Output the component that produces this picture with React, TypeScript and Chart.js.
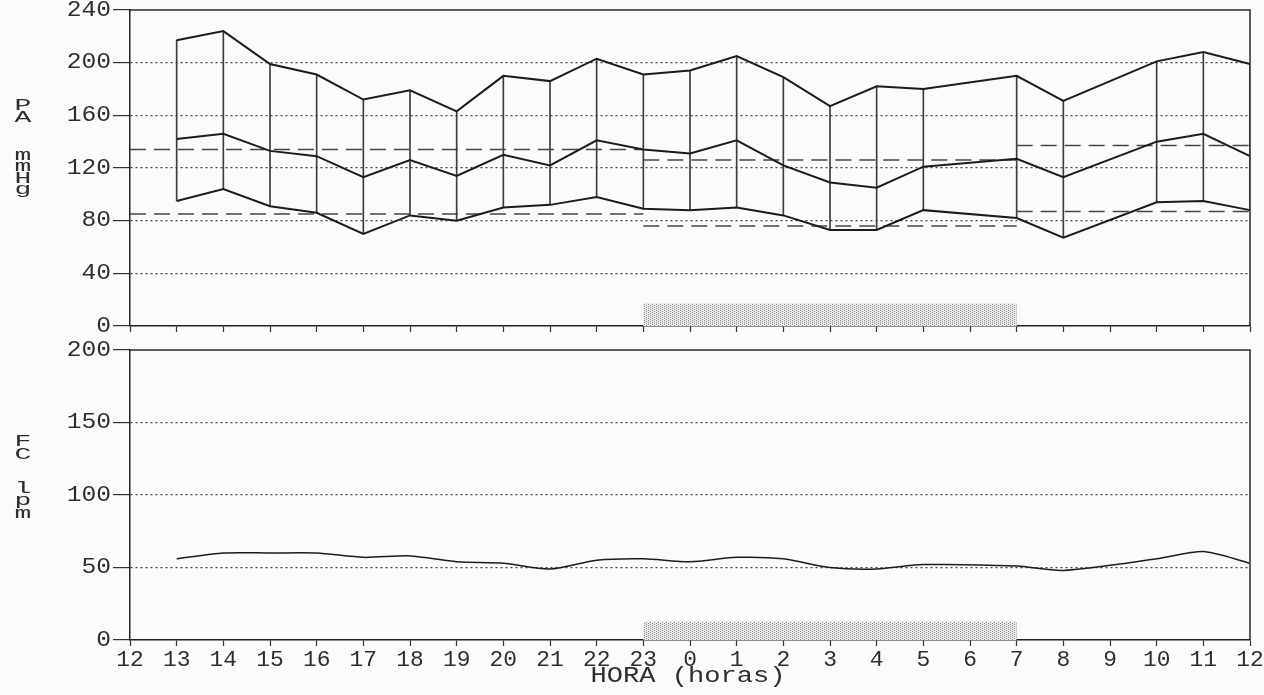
import React, { useEffect, useRef } from 'react';
import { Chart, registerables } from 'chart.js';

Chart.register(...registerables);

// Hour axis: noon to noon
const hours = ['12', '13', '14', '15', '16', '17', '18', '19', '20', '21', '22', '23', '0', '1', '2', '3', '4', '5', '6', '7', '8', '9', '10', '11', '12'];

// Blood pressure readings (mmHg); null = no reading at that hour
const systolic = [null, 217, 224, 199, 191, 172, 179, 163, 190, 186, 203, 191, 194, 205, 189, 167, 182, 180, null, 190, 171, null, 201, 208, 199];
const meanPressure = [null, 142, 146, 133, 129, 113, 126, 114, 130, 122, 141, 134, 131, 141, 122, 109, 105, 121, null, 127, 113, null, 140, 146, 129];
const diastolic = [null, 95, 104, 91, 86, 70, 84, 80, 90, 92, 98, 89, 88, 90, 84, 73, 73, 88, null, 82, 67, null, 94, 95, 88];

// Heart rate (bpm)
const heartRate = [null, 56, 60, 60, 60, 57, 58, 54, 53, 49, 55, 56, 54, 57, 56, 50, 49, 52, null, 51, 48, null, 56, 61, 53];

// Period averages: day (12–23), night (23–7), day (7–12); edges are indexes into hours
const periodEdges = [0, 11, 19, 24];
const systolicPeriodMean = [134, 126, 137];
const diastolicPeriodMean = [85, 76, 87];

// Sleep period marker (hour indexes) and its height in each panel's units
const nightStart = 11;
const nightEnd = 19;
const paNightBand = 17;
const fcNightBand = 12.5;

// Axis ranges
const paMax = 240;
const paStep = 40;
const fcMax = 200;
const fcStep = 50;

const axisTitle = 'HORA (horas)';
const paLetters = ['P', 'A', 'm', 'm', 'H', 'g'];
const fcLetters = ['F', 'C', 'l', 'p', 'm'];

const FONT = "'Liberation Mono', 'Courier New', monospace";
const INK = '#1c1c1c';
const GRID = '#40405a';
const LABEL = '#2e2e2e';

function stretchText(
  ctx: CanvasRenderingContext2D,
  text: string,
  x: number,
  y: number,
  sx: number,
  align: CanvasTextAlign,
  baseline: CanvasTextBaseline
) {
  ctx.save();
  ctx.translate(x, y);
  ctx.scale(sx, 1);
  ctx.textAlign = align;
  ctx.textBaseline = baseline;
  ctx.fillText(text, 0, 0);
  ctx.restore();
}

function makeStipple(): CanvasPattern | string {
  const tile = document.createElement('canvas');
  tile.width = 4;
  tile.height = 2;
  const t = tile.getContext('2d');
  if (!t) return '#ddd';
  t.fillStyle = '#ebebeb';
  t.fillRect(0, 0, 4, 2);
  t.fillStyle = '#8c8c8c';
  t.fillRect(0, 0, 1, 1);
  t.fillRect(2, 1, 1, 1);
  const p = t.createPattern(tile, 'repeat');
  return p || '#ddd';
}

type PanelDecor = {
  letters: string[];
  letterBaselines: number[];
  band: number;
  showHours: boolean;
  hourLabelY: number;
  titleY: number;
};

function decorPlugin(id: string, decor: PanelDecor) {
  return {
    id,
    beforeDatasetsDraw(chart: any) {
      const { ctx, scales } = chart;
      const xs = scales.x;
      const ys = scales.y;
      const x1 = xs.getPixelForValue(nightStart);
      const x2 = xs.getPixelForValue(nightEnd);
      const yTop = ys.getPixelForValue(decor.band);
      const yBot = ys.getPixelForValue(0);
      ctx.save();
      ctx.fillStyle = makeStipple();
      ctx.fillRect(x1, yTop, x2 - x1, yBot - yTop);
      ctx.restore();
    },
    afterDraw(chart: any) {
      const { ctx, scales, chartArea } = chart;
      const xs = scales.x;
      const ys = scales.y;

      // top and right frame lines
      ctx.save();
      ctx.strokeStyle = '#2a2a2a';
      ctx.lineWidth = 1.5;
      ctx.beginPath();
      ctx.moveTo(chartArea.left, chartArea.top);
      ctx.lineTo(chartArea.right, chartArea.top);
      ctx.lineTo(chartArea.right, chartArea.bottom);
      ctx.stroke();
      ctx.restore();

      ctx.save();
      ctx.fillStyle = LABEL;
      ctx.font = `22px ${FONT}`;
      ys.ticks.forEach((t: any, i: number) => {
        stretchText(ctx, String(t.value), 111, ys.getPixelForTick(i), 1.12, 'right', 'middle');
      });
      if (decor.showHours) {
        xs.ticks.forEach((t: any, i: number) => {
          stretchText(ctx, String(xs.getLabelForValue(t.value)), xs.getPixelForTick(i), decor.hourLabelY, 1.04, 'center', 'middle');
        });
        stretchText(ctx, axisTitle, (chartArea.left + chartArea.right) / 2 - 2, decor.titleY, 1.23, 'center', 'middle');
      }
      ctx.font = `17px ${FONT}`;
      decor.letters.forEach((ch, i) => {
        stretchText(ctx, ch, 23, decor.letterBaselines[i], 1.65, 'center', 'alphabetic');
      });
      ctx.restore();
    },
  };
}

function fitScale(size: number, horizontal: boolean) {
  return (scale: any) => {
    if (horizontal) scale.height = size;
    else scale.width = size;
    scale.paddingTop = 0;
    scale.paddingBottom = 0;
    scale.paddingLeft = 0;
    scale.paddingRight = 0;
  };
}

function yAxis(max: number, step: number) {
  return {
    min: 0,
    max,
    afterFit: fitScale(130, false),
    ticks: { stepSize: step, color: 'rgba(0,0,0,0)', font: { size: 19, family: FONT }, padding: 0 },
    grid: {
      color: (c: any) => (c.tick && (c.tick.value === 0 || c.tick.value === max) ? 'rgba(0,0,0,0)' : GRID),
      lineWidth: 1.2,
      drawTicks: true,
      tickLength: 17,
      tickColor: '#333',
      tickWidth: 1.2,
    },
    border: { display: true, color: '#222', width: 1.5, dash: [2, 3] },
  };
}

function xAxis(height: number) {
  return {
    type: 'category' as const,
    offset: false,
    afterFit: fitScale(height, true),
    ticks: { color: 'rgba(0,0,0,0)', autoSkip: false, maxRotation: 0, minRotation: 0, font: { size: 19, family: FONT }, padding: 0 },
    grid: {
      offset: false,
      drawOnChartArea: false,
      drawTicks: true,
      tickLength: 6,
      tickColor: '#333',
      tickWidth: 1.2,
    },
    border: { display: true, color: '#222', width: 1.5 },
  };
}

function periodSeries(means: number[]) {
  return means.map((m, p) => {
    const data: (number | null)[] = hours.map(() => null);
    data[periodEdges[p]] = m;
    data[periodEdges[p + 1]] = m;
    return {
      type: 'line' as const,
      data,
      borderColor: '#454545',
      borderWidth: 1.5,
      borderDash: [16, 8],
      pointRadius: 0,
      spanGaps: true,
      order: 3,
    };
  });
}

function pressureLine(data: (number | null)[]) {
  return {
    type: 'line' as const,
    data,
    borderColor: INK,
    borderWidth: 2,
    pointRadius: 0,
    spanGaps: true,
    tension: 0,
    order: 1,
  };
}

export default function App() {
  const paRef = useRef<HTMLCanvasElement>(null);
  const fcRef = useRef<HTMLCanvasElement>(null);

  useEffect(() => {
    if (!paRef.current || !fcRef.current) return;

    const common = {
      responsive: false,
      animation: false as const,
      events: [] as any[],
      plugins: { legend: { display: false }, tooltip: { enabled: false } },
    };

    const paChart = new Chart(paRef.current, {
      type: 'line',
      data: {
        labels: hours,
        datasets: [
          {
            type: 'bar' as const,
            data: systolic.map((s, i) => (s == null || diastolic[i] == null ? null : [diastolic[i], s])) as any,
            backgroundColor: '#3c3c3c',
            borderWidth: 0,
            barThickness: 1,
            order: 5,
          },
          ...periodSeries(systolicPeriodMean),
          ...periodSeries(diastolicPeriodMean),
          pressureLine(systolic),
          pressureLine(meanPressure),
          pressureLine(diastolic),
        ] as any,
      },
      options: {
        ...common,
        layout: { padding: { top: 10, right: 14, left: 0, bottom: 0 } },
        scales: { x: xAxis(14) as any, y: yAxis(paMax, paStep) as any },
      },
      plugins: [
        decorPlugin('paDecor', {
          letters: paLetters,
          letterBaselines: [110, 122, 160, 171, 183, 194],
          band: paNightBand,
          showHours: false,
          hourLabelY: 0,
          titleY: 0,
        }),
      ],
    });

    const fcChart = new Chart(fcRef.current, {
      type: 'line',
      data: {
        labels: hours,
        datasets: [
          {
            data: heartRate,
            borderColor: INK,
            borderWidth: 1.5,
            pointRadius: 0,
            spanGaps: true,
            tension: 0.25,
          },
        ],
      },
      options: {
        ...common,
        layout: { padding: { top: 15, right: 14, left: 0, bottom: 0 } },
        scales: { x: xAxis(55) as any, y: yAxis(fcMax, fcStep) as any },
      },
      plugins: [
        decorPlugin('fcDecor', {
          letters: fcLetters,
          letterBaselines: [446 - 335, 459 - 335, 493 - 335, 505 - 335, 518 - 335],
          band: fcNightBand,
          showHours: true,
          hourLabelY: 325,
          titleY: 341,
        }),
      ],
    });

    return () => {
      paChart.destroy();
      fcChart.destroy();
    };
  }, []);

  return (
    <div style={{ position: 'fixed', left: 0, top: 0, width: 1264, height: 695, background: '#fbfbfb', overflow: 'hidden' }}>
      <canvas ref={paRef} width={1264} height={340} style={{ position: 'absolute', left: 0, top: 0, display: 'block' }} />
      <canvas ref={fcRef} width={1264} height={360} style={{ position: 'absolute', left: 0, top: 335, display: 'block' }} />
    </div>
  );
}
